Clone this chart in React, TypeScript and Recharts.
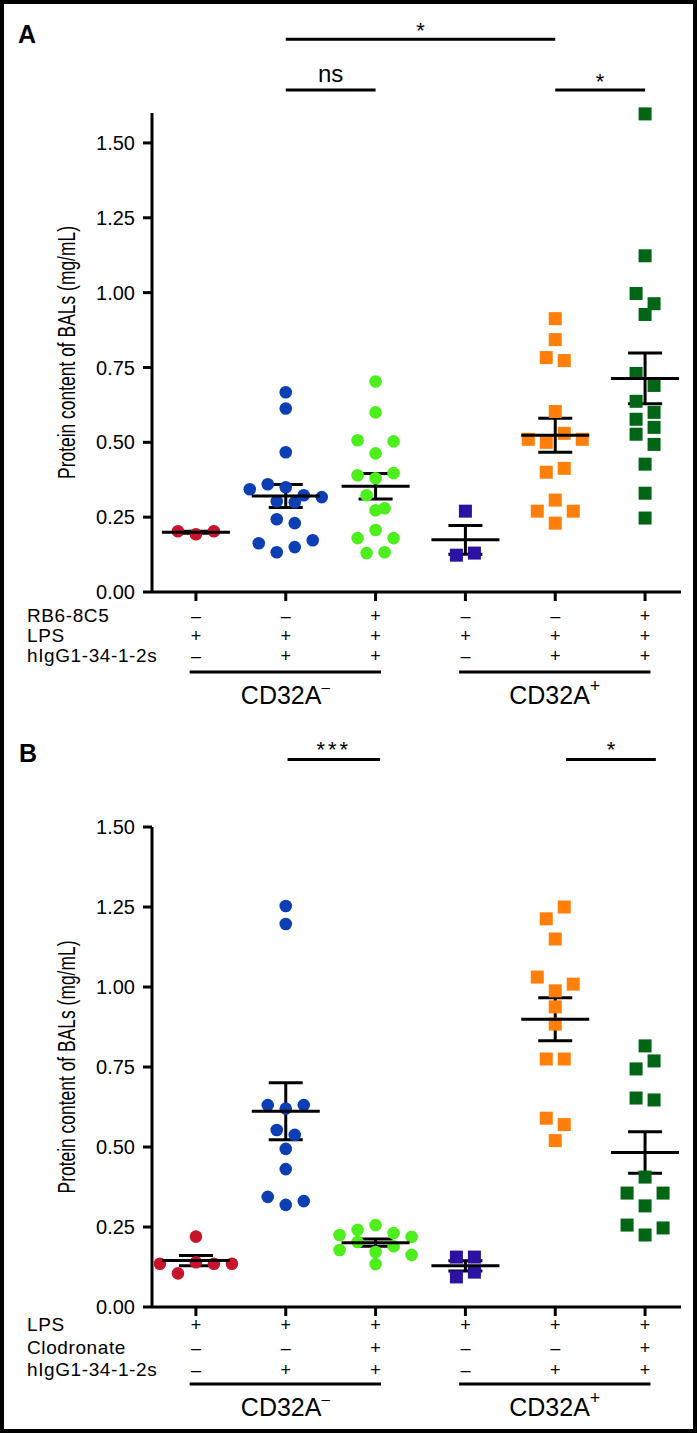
import React from 'react';
import { ScatterChart, Scatter, XAxis, YAxis, ErrorBar, ReferenceLine, Label } from 'recharts';

// protein content of BALs (mg/mL), one array per group, left to right
// panel A
const aNegLps = [0.203, 0.193, 0.203];
const aNegIgg = [0.667, 0.613, 0.467, 0.343, 0.36, 0.35, 0.323, 0.317, 0.303, 0.3, 0.243, 0.23, 0.163, 0.133, 0.15, 0.173];
const aNegRb6 = [0.703, 0.6, 0.507, 0.463, 0.503, 0.39, 0.38, 0.397, 0.323, 0.273, 0.28, 0.18, 0.207, 0.18, 0.13, 0.133];
const aPosLps = [0.27, 0.123, 0.13];
const aPosIgg = [0.913, 0.843, 0.783, 0.773, 0.603, 0.51, 0.5, 0.53, 0.51, 0.4, 0.413, 0.27, 0.307, 0.27, 0.23];
const aPosRb6 = [1.597, 1.123, 0.997, 0.963, 0.927, 0.73, 0.69, 0.637, 0.6, 0.577, 0.55, 0.527, 0.493, 0.427, 0.33, 0.247];
// panel B
const bNegLps = [0.22, 0.135, 0.105, 0.14, 0.135, 0.135];
const bNegIgg = [1.253, 1.197, 0.631, 0.62, 0.631, 0.553, 0.538, 0.494, 0.431, 0.344, 0.319, 0.331];
const bNegClod = [0.225, 0.241, 0.256, 0.231, 0.219, 0.178, 0.203, 0.172, 0.19, 0.163, 0.134];
const bPosLps = [0.156, 0.156, 0.094, 0.109];
const bPosIgg = [1.213, 1.25, 1.15, 1.031, 0.988, 1.009, 0.938, 0.884, 0.775, 0.775, 0.59, 0.57, 0.52];
const bPosClod = [0.816, 0.744, 0.769, 0.653, 0.647, 0.406, 0.356, 0.316, 0.356, 0.256, 0.225, 0.247];

// treatment rows under the x axis
const aRowNames = ['RB6-8C5', 'LPS', 'hIgG1-34-1-2s'];
const aRows = [
  ['–', '–', '+', '–', '–', '+'],
  ['+', '+', '+', '+', '+', '+'],
  ['–', '+', '+', '–', '+', '+'],
];
const bRowNames = ['LPS', 'Clodronate', 'hIgG1-34-1-2s'];
const bRows = [
  ['+', '+', '+', '+', '+', '+'],
  ['–', '–', '+', '–', '–', '+'],
  ['–', '+', '+', '–', '+', '+'],
];

const aTicks = [0, 0.25, 0.5, 0.75, 1, 1.25, 1.5];
const bTicks = [0, 0.25, 0.5, 0.75, 1, 1.25, 1.5];
const groupTicks = [1, 2, 3, 4, 5, 6];

const colors = ['#c8142a', '#0b3fb3', '#4cef1c', '#2b12a0', '#ff7f0a', '#006616'];
const FONT = '"Liberation Sans", Arial, Helvetica, sans-serif';
const X_DOMAIN = [0.511, 6.4];
const PLOT_W = 529;

// prism-like swarm: bin close values, spread each bin evenly around the group centre
function swarm(values: number[], group: number, pxPerUnitY: number) {
  const pxPerUnitX = PLOT_W / (X_DOMAIN[1] - X_DOMAIN[0]);
  const step = 18 / pxPerUnitX;
  const order = values.map((v, i) => i).sort((a, b) => values[b] - values[a]);
  const bins: number[][] = [];
  let start = Infinity;
  order.forEach((i) => {
    if (bins.length && (start - values[i]) * pxPerUnitY < 14) bins[bins.length - 1].push(i);
    else {
      bins.push([i]);
      start = values[i];
    }
  });
  const pts: { x: number; y: number }[] = [];
  bins.forEach((bin) => {
    bin.sort((a, b) => a - b);
    bin.forEach((i, k) => pts.push({ x: group + (k - (bin.length - 1) / 2) * step, y: values[i] }));
  });
  return pts;
}

function meanSem(values: number[], group: number) {
  const n = values.length;
  const mean = values.reduce((s, v) => s + v, 0) / n;
  const sd = Math.sqrt(values.reduce((s, v) => s + (v - mean) ** 2, 0) / (n - 1));
  return [{ x: group, y: mean, sem: sd / Math.sqrt(n) }];
}

const circle = (fill: string) => (p: any) => <circle cx={p.cx} cy={p.cy} r={6.3} fill={fill} />;
const square = (fill: string) => (p: any) => (
  <rect x={p.cx - 6.5} y={p.cy - 6.5} width={13} height={13} fill={fill} />
);
const meanLine = (p: any) => (
  <line x1={p.cx - 34} x2={p.cx + 34} y1={p.cy} y2={p.cy} stroke="#000" strokeWidth={3} />
);

const yLabel = (props: any) => {
  const vb = props.viewBox;
  const cx = vb.x + 75;
  const cy = vb.y + vb.height / 2;
  return (
    <text x={cx} y={cy} transform={`rotate(-90, ${cx}, ${cy})`} textAnchor="middle" fontSize={23}
      fill="#000" textLength={253} lengthAdjust="spacingAndGlyphs">
      Protein content of BALs (mg/mL)
    </text>
  );
};

const bracketLabel = (text: string, size: number, gap: number, spacing = 0) => (props: any) => {
  const vb = props.viewBox;
  return (
    <text x={vb.x + vb.width / 2} y={vb.y - gap} textAnchor="middle" fontSize={size} fill="#000"
      letterSpacing={spacing}>
      {text}
    </text>
  );
};

const groupLabel = (sup: string) => (props: any) => {
  const vb = props.viewBox;
  return (
    <text x={vb.x + vb.width / 2} y={vb.y + 32} textAnchor="middle" fontSize={25} fill="#000">
      CD32A
      <tspan fontSize={sup === '+' ? 18 : 15} dy={-12}>{sup}</tspan>
    </text>
  );
};

const makeTick = (rows: string[][], dys: number[]) => (props: any) => {
  const { x, y, payload } = props;
  const i = Math.round(payload.value) - 1;
  return (
    <g>
      {rows.map((r, k) => (
        <text key={k} x={x} y={y + dys[k]} textAnchor="middle" fontSize={18} fill="#000">{r[i]}</text>
      ))}
    </g>
  );
};

type Panel = {
  groups: number[][];
  yMax: number;
  ticks: number[];
  rows: string[][];
  rowDys: number[];
  top: number;
  height: number;
  marginTop: number;
  marginBottom: number;
  brackets: { from: number; to: number; y: number; text: string; size: number; gap: number; spacing?: number }[];
  underY: number;
};

function Chart({ p }: { p: Panel }) {
  const pxPerUnitY = 479 / p.yMax;
  return (
    <div style={{ position: 'absolute', left: 0, top: p.top }}>
      <ScatterChart width={697} height={p.height}
        margin={{ top: p.marginTop, right: 16, bottom: p.marginBottom, left: 0 }}>
        <XAxis type="number" dataKey="x" domain={X_DOMAIN} ticks={groupTicks} height={108}
          tickSize={9} tickMargin={0} interval={0}
          axisLine={{ stroke: '#000', strokeWidth: 3 }} tickLine={{ stroke: '#000', strokeWidth: 3 }}
          tick={makeTick(p.rows, p.rowDys)} />
        <YAxis type="number" dataKey="y" domain={[0, p.yMax]} ticks={p.ticks} width={152}
          tickSize={9} tickMargin={8} interval={0} tickFormatter={(v: number) => v.toFixed(2)}
          axisLine={{ stroke: '#000', strokeWidth: 3 }} tickLine={{ stroke: '#000', strokeWidth: 3 }}
          tick={{ fontSize: 20, fill: '#000' }}>
          <Label content={yLabel} />
        </YAxis>
        {p.groups.map((vals, gi) => (
          <Scatter key={`pts${gi}`} data={swarm(vals, gi + 1, pxPerUnitY)} isAnimationActive={false}
            shape={gi < 3 ? circle(colors[gi]) : square(colors[gi])} />
        ))}
        {p.groups.map((vals, gi) => (
          <Scatter key={`mean${gi}`} data={meanSem(vals, gi + 1)} isAnimationActive={false} shape={meanLine}>
            <ErrorBar dataKey="sem" direction="y" width={17} stroke="#000" strokeWidth={3} isAnimationActive={false} />
          </Scatter>
        ))}
        {p.brackets.map((b, i) => (
          <ReferenceLine key={`br${i}`} segment={[{ x: b.from, y: b.y }, { x: b.to, y: b.y }]} ifOverflow="visible"
            stroke="#000" strokeWidth={3}>
            <Label content={bracketLabel(b.text, b.size, b.gap, b.spacing)} />
          </ReferenceLine>
        ))}
        <ReferenceLine segment={[{ x: 1 - 0.07, y: p.underY }, { x: 3 + 0.06, y: p.underY }]} ifOverflow="visible"
          stroke="#000" strokeWidth={3}>
          <Label content={groupLabel('–')} />
        </ReferenceLine>
        <ReferenceLine segment={[{ x: 4 - 0.07, y: p.underY }, { x: 6 + 0.06, y: p.underY }]} ifOverflow="visible"
          stroke="#000" strokeWidth={3}>
          <Label content={groupLabel('+')} />
        </ReferenceLine>
      </ScatterChart>
    </div>
  );
}

const panelA: Panel = {
  groups: [aNegLps, aNegIgg, aNegRb6, aPosLps, aPosIgg, aPosRb6],
  yMax: 1.6,
  ticks: aTicks,
  rows: aRows,
  rowDys: [21, 41, 61],
  top: 0,
  height: 720,
  marginTop: 113,
  marginBottom: 20,
  brackets: [
    { from: 2, to: 5, y: 1.846, text: '*', size: 22, gap: 1 },
    { from: 2, to: 3, y: 1.677, text: 'ns', size: 24, gap: 8 },
    { from: 5, to: 6, y: 1.677, text: '*', size: 22, gap: 1 },
  ],
  underY: -0.267,
};

const panelB: Panel = {
  groups: [bNegLps, bNegIgg, bNegClod, bPosLps, bPosIgg, bPosClod],
  yMax: 1.5,
  ticks: bTicks,
  rows: bRows,
  rowDys: [15, 38, 60],
  top: 720,
  height: 713,
  marginTop: 107,
  marginBottom: 18,
  brackets: [
    { from: 2.02, to: 3.05, y: 1.711, text: '***', size: 22, gap: 2, spacing: 3 },
    { from: 5.12, to: 6.12, y: 1.711, text: '*', size: 22, gap: 2 },
  ],
  underY: -0.241,
};

const ROW_FONT = 19;

export default function App() {
  return (
    <div style={{ position: 'absolute', left: 0, top: 0, width: 697, height: 1433, background: '#fff', fontFamily: FONT }}>
      <Chart p={panelA} />
      <Chart p={panelB} />
      <svg width={697} height={1433} style={{ position: 'absolute', left: 0, top: 0, pointerEvents: 'none' }}>
        <text x={18} y={43} fontSize={25} fontWeight="bold" fill="#000">A</text>
        <text x={19} y={762} fontSize={25} fontWeight="bold" fill="#000">B</text>
        {aRowNames.map((t, i) => (
          <text key={`a${i}`} x={27} y={622 + i * 20} fontSize={ROW_FONT} letterSpacing={0.6} fill="#000">{t}</text>
        ))}
        {bRowNames.map((t, i) => (
          <text key={`b${i}`} x={27} y={[1331, 1354, 1376][i]} fontSize={ROW_FONT} letterSpacing={0.6} fill="#000">{t}</text>
        ))}
      </svg>
      <div style={{ position: 'absolute', left: 0, top: 0, width: 697, height: 1433, border: '4px solid #000', boxSizing: 'border-box', pointerEvents: 'none' }} />
    </div>
  );
}
